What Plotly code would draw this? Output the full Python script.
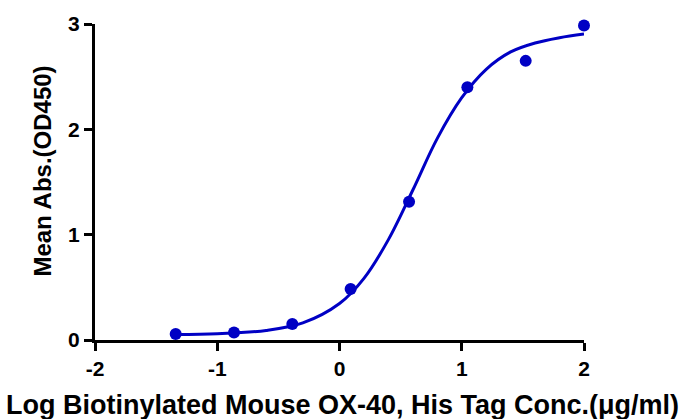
import plotly.graph_objects as go

# Measured data points
log_conc = [-1.340, -0.863, -0.386, 0.091, 0.569, 1.046, 1.523, 2.000]
mean_abs = [0.057, 0.072, 0.152, 0.484, 1.313, 2.400, 2.650, 2.985]

# Fitted curve
curve_x = [-1.34, -1.0, -0.6, -0.3, 0.0, 0.2, 0.4, 0.6, 0.8, 1.0, 1.2, 1.4, 1.6, 1.8, 2.0]
curve_y = [0.053, 0.060, 0.091, 0.162, 0.346, 0.585, 0.953, 1.424, 1.914, 2.300, 2.570, 2.735, 2.820, 2.870, 2.905]

x_ticks = [-2, -1, 0, 1, 2]
y_ticks = [0, 1, 2, 3]

x_title = "Log Biotinylated Mouse OX-40, His Tag Conc.(μg/ml)"
y_title = "Mean Abs.(OD450)"

color = "#0000c4"
font_family = "Liberation Sans, Arial, sans-serif"

fig = go.Figure()
fig.add_trace(go.Scatter(x=curve_x, y=curve_y, mode="lines", line=dict(color=color, width=3, shape="spline"),
                         showlegend=False, hoverinfo="skip", cliponaxis=False))
fig.add_trace(go.Scatter(x=log_conc, y=mean_abs, mode="markers", marker=dict(color=color, size=12),
                         showlegend=False, cliponaxis=False))

fig.update_layout(
    width=680, height=419,
    margin=dict(l=95, r=96, t=24, b=79),
    plot_bgcolor="white", paper_bgcolor="white",
    font=dict(family=font_family, color="black"),
)
common = dict(
    showline=True, linecolor="black", linewidth=3, showgrid=False, zeroline=False,
    ticks="outside", ticklen=8, tickwidth=3, tickcolor="black", automargin=False,
    tickfont=dict(size=21, family=font_family, weight="bold", color="black"),
)
fig.update_xaxes(range=[-2, 2], tickvals=x_ticks, ticktext=[str(v) for v in x_ticks], **common)
fig.update_yaxes(range=[0, 3], tickvals=y_ticks, ticktext=[str(v) for v in y_ticks], **common)

fig.add_annotation(text=x_title, xref="paper", yref="paper", x=0.506, y=0, xanchor="center", yanchor="middle",
                   yshift=-65, showarrow=False,
                   font=dict(size=27, family=font_family, weight="bold", color="black"))
fig.add_annotation(text=y_title, xref="paper", yref="paper", x=0, y=0.533, xanchor="center", yanchor="middle",
                   xshift=-52, textangle=-90, showarrow=False,
                   font=dict(size=24, family=font_family, weight="bold", color="black"))

fig.write_html("out.html", config={"displayModeBar": False},
               post_script="document.body.style.margin='0px';")
